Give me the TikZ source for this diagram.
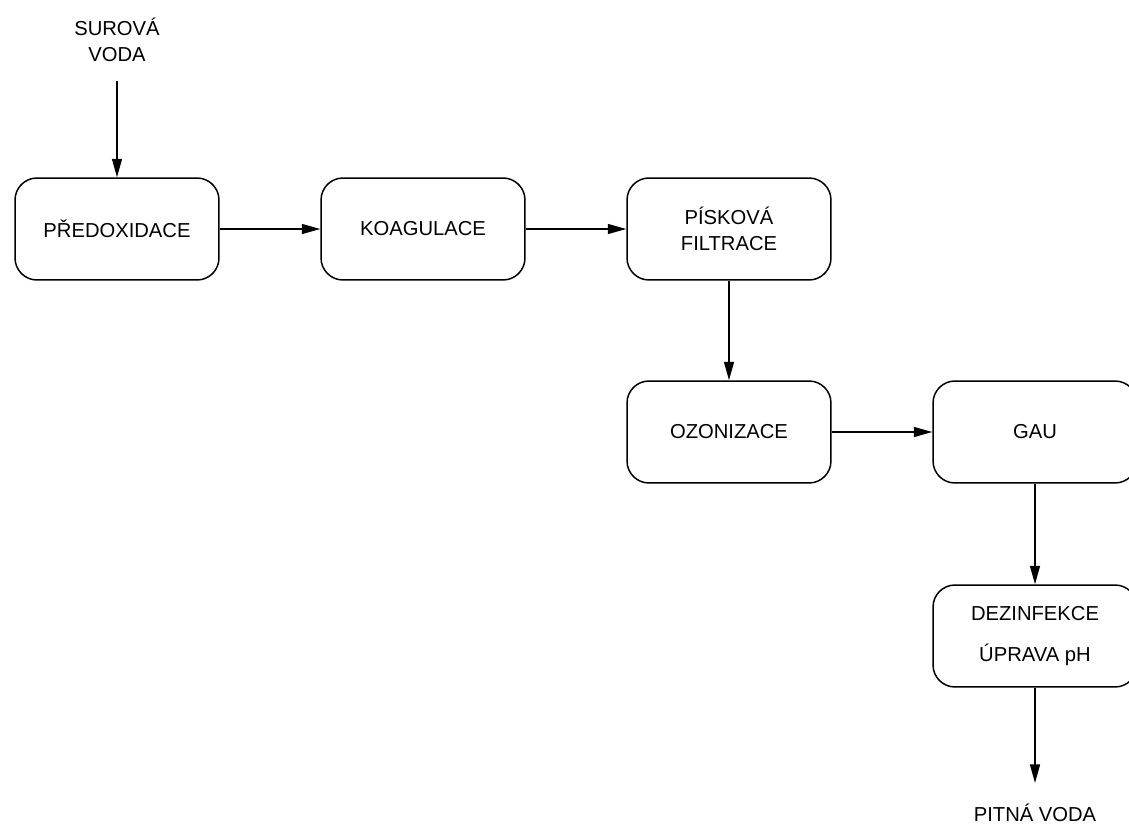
\documentclass[tikz,border=0pt]{standalone}
\usepackage{fontspec}
\setmainfont{Liberation Sans}
\usetikzlibrary{arrows.meta}

\tikzset{
    stage/.style={draw, rounded corners=0.44cm, minimum width=4.08cm,
        minimum height=2.04cm, align=center, line width=0.85pt},
    flow/.style={-{Triangle[length=0.37cm, width=0.2cm]}, line width=0.8pt},
    label/.style={align=center}
}

\begin{document}
\begin{tikzpicture}[x=0.02cm, y=-0.02cm, font=\fontsize{11.5}{15}\selectfont]
            \useasboundingbox (0,0) rectangle (1129,824);

            \node[label] (raw) at (117,40) {SUROVÁ\\VODA};
            \node[stage] (preox) at (117,229) {PŘEDOXIDACE};
            \node[stage] (coag) at (423,229) {KOAGULACE};
            \node[stage] (sand) at (729,229) {PÍSKOVÁ\\FILTRACE};
            \node[stage] (ozone) at (729,432) {OZONIZACE};
            \node[stage] (gac) at (1035,432) {GAU};
            \node[stage] (disinf) at (1035,636) {DEZINFEKCE\\[8pt]ÚPRAVA pH};
            \node[label] (drink) at (1035,813) {PITNÁ VODA};

            \draw[flow, shorten <=0.25cm] (raw) -- (preox);
            \draw[flow] (preox) -- (coag);
            \draw[flow] (coag) -- (sand);
            \draw[flow] (sand) -- (ozone);
            \draw[flow] (ozone) -- (gac);
            \draw[flow] (gac) -- (disinf);
            \draw[flow, shorten >=0.3cm] (disinf) -- (drink);
        \end{tikzpicture}
\end{document}
